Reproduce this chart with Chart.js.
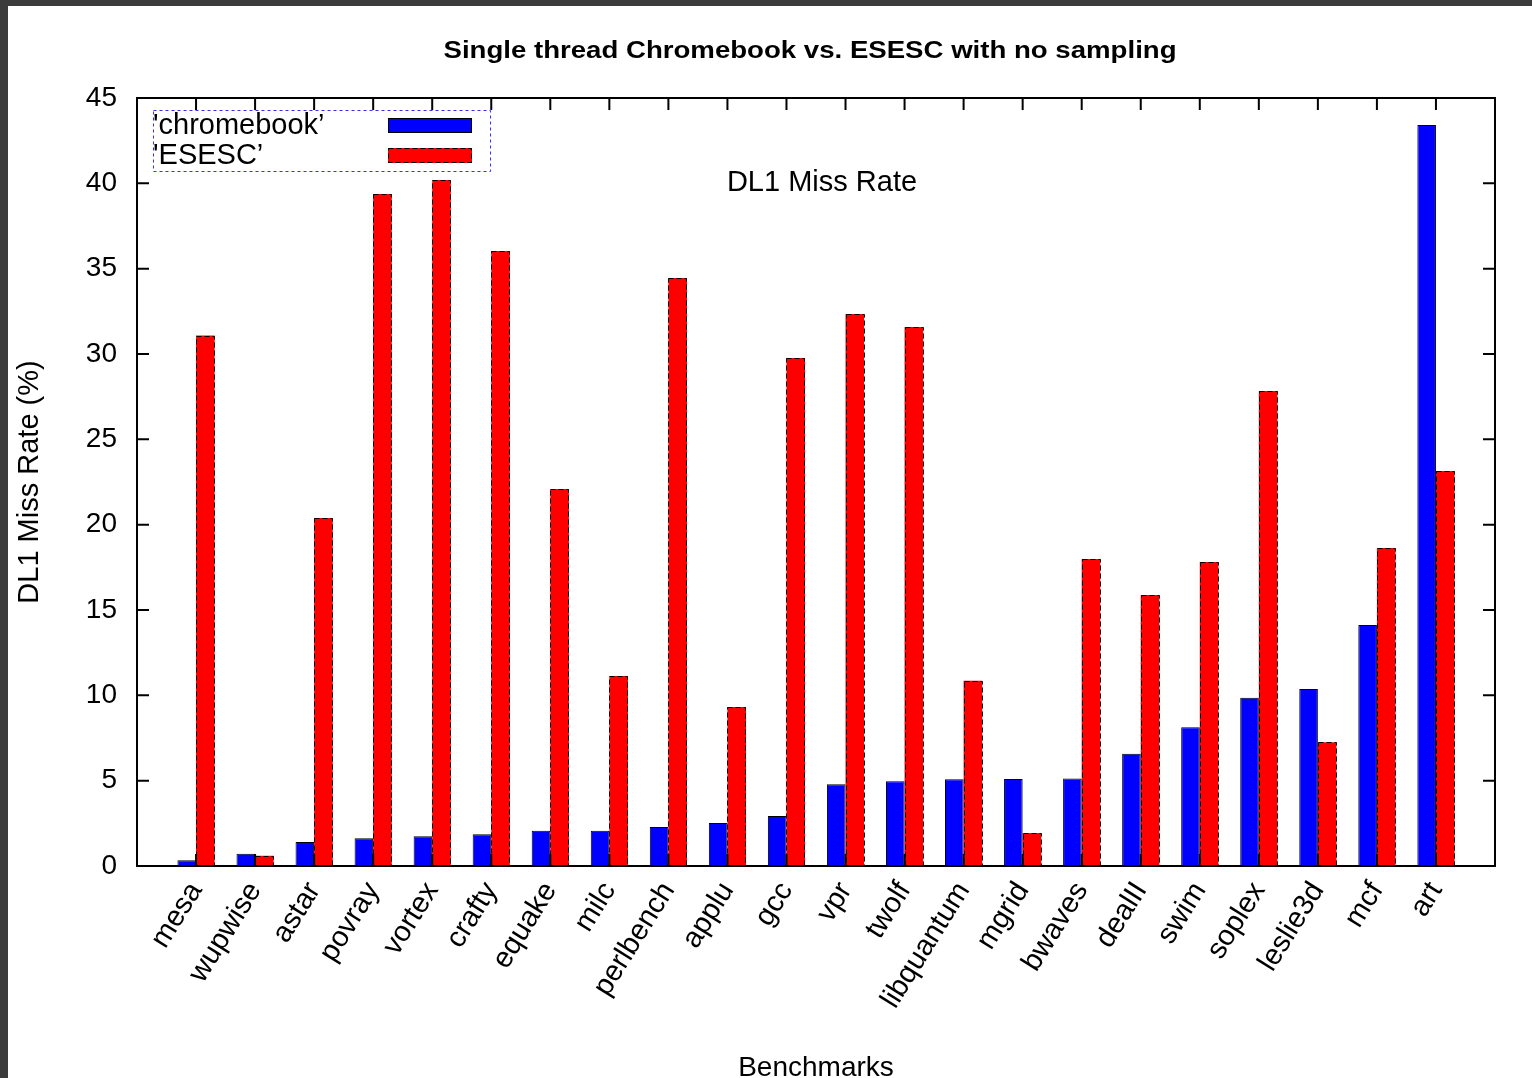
<!DOCTYPE html>
<html>
<head>
<meta charset="utf-8">
<script src="https://cdn.jsdelivr.net/npm/chart.js@4.4.1/dist/chart.umd.min.js"></script>
<style>
  html, body { margin: 0; padding: 0; background: #3c3c3c; }
  #wrap { position: absolute; left: 8px; top: 6px; width: 1524px; height: 1072px; background: #fff; }
</style>
</head>
<body>
<div id="wrap"><canvas id="chart" width="1524" height="1072"></canvas></div>
<script>
var benchmarks = ['mesa', 'wupwise', 'astar', 'povray', 'vortex', 'crafty', 'equake', 'milc', 'perlbench', 'applu', 'gcc',
    'vpr', 'twolf', 'libquantum', 'mgrid', 'bwaves', 'dealII', 'swim', 'soplex', 'leslie3d', 'mcf', 'art'];
var chromebook = [0.33, 0.72, 1.4, 1.62, 1.74, 1.86, 2.07, 2.07, 2.28, 2.52, 2.93,
    4.79, 4.96, 5.08, 5.1, 5.12, 6.58, 8.13, 9.86, 10.37, 14.12, 43.42];
var esesc = [31.08, 0.6, 20.39, 39.37, 40.19, 36.03, 22.09, 11.13, 34.45, 9.32, 29.77,
    32.34, 31.58, 10.85, 1.93, 17.99, 15.88, 17.81, 27.83, 7.25, 18.63, 23.14];
var yTicks = [0, 5, 10, 15, 20, 25, 30, 35, 40, 45];
var seriesNames = ["'chromebook\u2019", "'ESESC\u2019"];

var chartTitle = 'Single thread Chromebook vs. ESESC with no sampling';
var innerLabel = 'DL1 Miss Rate';

// gnuplot leaves one empty slot on each side of the bars
var labels = [''].concat(benchmarks, ['']);
function pad(arr){ return [null].concat(arr, [null]); }

var FONT = '"Liberation Sans", Arial, sans-serif';

var decor = {
    id: 'decor',
    afterDatasetsDraw: function(chart){
        var ctx = chart.ctx;
        var a = chart.chartArea;
        var x = chart.scales.x, y = chart.scales.y;

        // dashed outline on the ESESC bars
        ctx.save();
        ctx.strokeStyle = '#000';
        ctx.lineWidth = 1;
        ctx.setLineDash([5, 3]);
        var meta = chart.getDatasetMeta(1);
        meta.data.forEach(function(bar, i){
            if (chart.data.datasets[1].data[i] == null) return;
            var p = bar.getProps(['x', 'y', 'base', 'width'], true);
            ctx.strokeRect(Math.round(p.x - p.width / 2) + 0.5, Math.round(p.y) + 0.5,
                Math.round(p.width) - 1, Math.round(p.base - p.y));
        });
        ctx.setLineDash([]);

        // frame + inward ticks
        ctx.lineWidth = 2;
        ctx.strokeRect(a.left, a.top, a.right - a.left, a.bottom - a.top);
        ctx.beginPath();
        yTicks.forEach(function(v){
            var py = y.getPixelForValue(v);
            ctx.moveTo(a.left, py); ctx.lineTo(a.left + 12, py);
            ctx.moveTo(a.right, py); ctx.lineTo(a.right - 12, py);
        });
        labels.forEach(function(l, i){
            if (!l) return;
            var px = x.getPixelForValue(i);
            ctx.moveTo(px, a.top); ctx.lineTo(px, a.top + 12);
            ctx.moveTo(px, a.bottom); ctx.lineTo(px, a.bottom - 12);
        });
        ctx.stroke();

        // legend box (top left, inside the plot)
        var lx = a.left + 16, ly = a.top + 12, lw = 337, lh = 61;
        ctx.lineWidth = 1;
        ctx.strokeStyle = '#3030ff';
        ctx.setLineDash([3, 3]);
        ctx.strokeRect(lx + 0.5, ly + 0.5, lw, lh);
        ctx.setLineDash([]);
        ctx.font = '29px ' + FONT;
        ctx.fillStyle = '#000';
        ctx.textAlign = 'left';
        ctx.textBaseline = 'alphabetic';
        chart.data.datasets.forEach(function(ds, k){
            var by = ly + 24 + k * 30;
            ctx.fillStyle = '#000';
            ctx.fillText(ds.label, lx, by);
            ctx.fillStyle = ds.backgroundColor;
            ctx.fillRect(lx + 235, by - 16, 84, 15);
            ctx.strokeStyle = '#000';
            if (k == 1) ctx.setLineDash([5, 3]);
            ctx.strokeRect(lx + 235.5, by - 15.5, 83, 14);
            ctx.setLineDash([]);
        });

        // label inside the plot
        ctx.fillStyle = '#000';
        ctx.textAlign = 'center';
        ctx.textBaseline = 'middle';
        ctx.font = '29px ' + FONT;
        ctx.fillText(innerLabel, (a.left + a.right) / 2 + 6, y.getPixelForValue(40));

        // title, gnuplot draws it wide
        ctx.font = 'bold 23px ' + FONT;
        ctx.translate((a.left + a.right) / 2 - 6, 46);
        ctx.scale(1.2, 1);
        ctx.fillText(chartTitle, 0, 0);
        ctx.restore();
    }
};

var chart = new Chart(document.getElementById('chart'), {
    type: 'bar',
    data: {
        labels: labels,
        datasets: [
            {
                label: seriesNames[0],
                data: pad(chromebook),
                backgroundColor: '#0000ff',
                borderColor: '#000',
                borderWidth: 1,
                barPercentage: 1.0,
                categoryPercentage: 0.63
            },
            {
                label: seriesNames[1],
                data: pad(esesc),
                backgroundColor: '#ff0000',
                borderWidth: 0,
                barPercentage: 1.0,
                categoryPercentage: 0.63
            }
        ]
    },
    options: {
        responsive: false,
        animation: false,
        layout: { padding: { top: 92, right: 37, left: 0, bottom: 0 } },
        plugins: {
            legend: { display: false },
            title: { display: false },
            tooltip: { enabled: false }
        },
        scales: {
            x: {
                offset: false,
                grid: { display: false, drawTicks: false },
                border: { display: false },
                ticks: {
                    autoSkip: false,
                    maxRotation: 58,
                    minRotation: 58,
                    padding: 10,
                    color: '#000',
                    font: { family: FONT, size: 29 }
                },
                title: {
                    display: true,
                    text: 'Benchmarks',
                    color: '#000',
                    font: { family: FONT, size: 28, lineHeight: 0.7 },
                    padding: 0
                },
                afterFit: function(scale){
                    scale.height = 212;
                    scale.paddingLeft = 0;
                    scale.paddingRight = 0;
                }
            },
            y: {
                min: 0,
                max: 45,
                grid: { display: false, drawTicks: false },
                border: { display: false },
                ticks: {
                    stepSize: 5,
                    padding: 20,
                    color: '#000',
                    font: { family: FONT, size: 28 }
                },
                title: {
                    display: true,
                    text: 'DL1 Miss Rate (%)',
                    color: '#000',
                    font: { family: FONT, size: 29, lineHeight: 1.2 },
                    padding: { top: 5, bottom: 0 }
                },
                afterFit: function(scale){ scale.width = 129; }
            }
        }
    },
    plugins: [decor]
});
</script>
</body>
</html>
